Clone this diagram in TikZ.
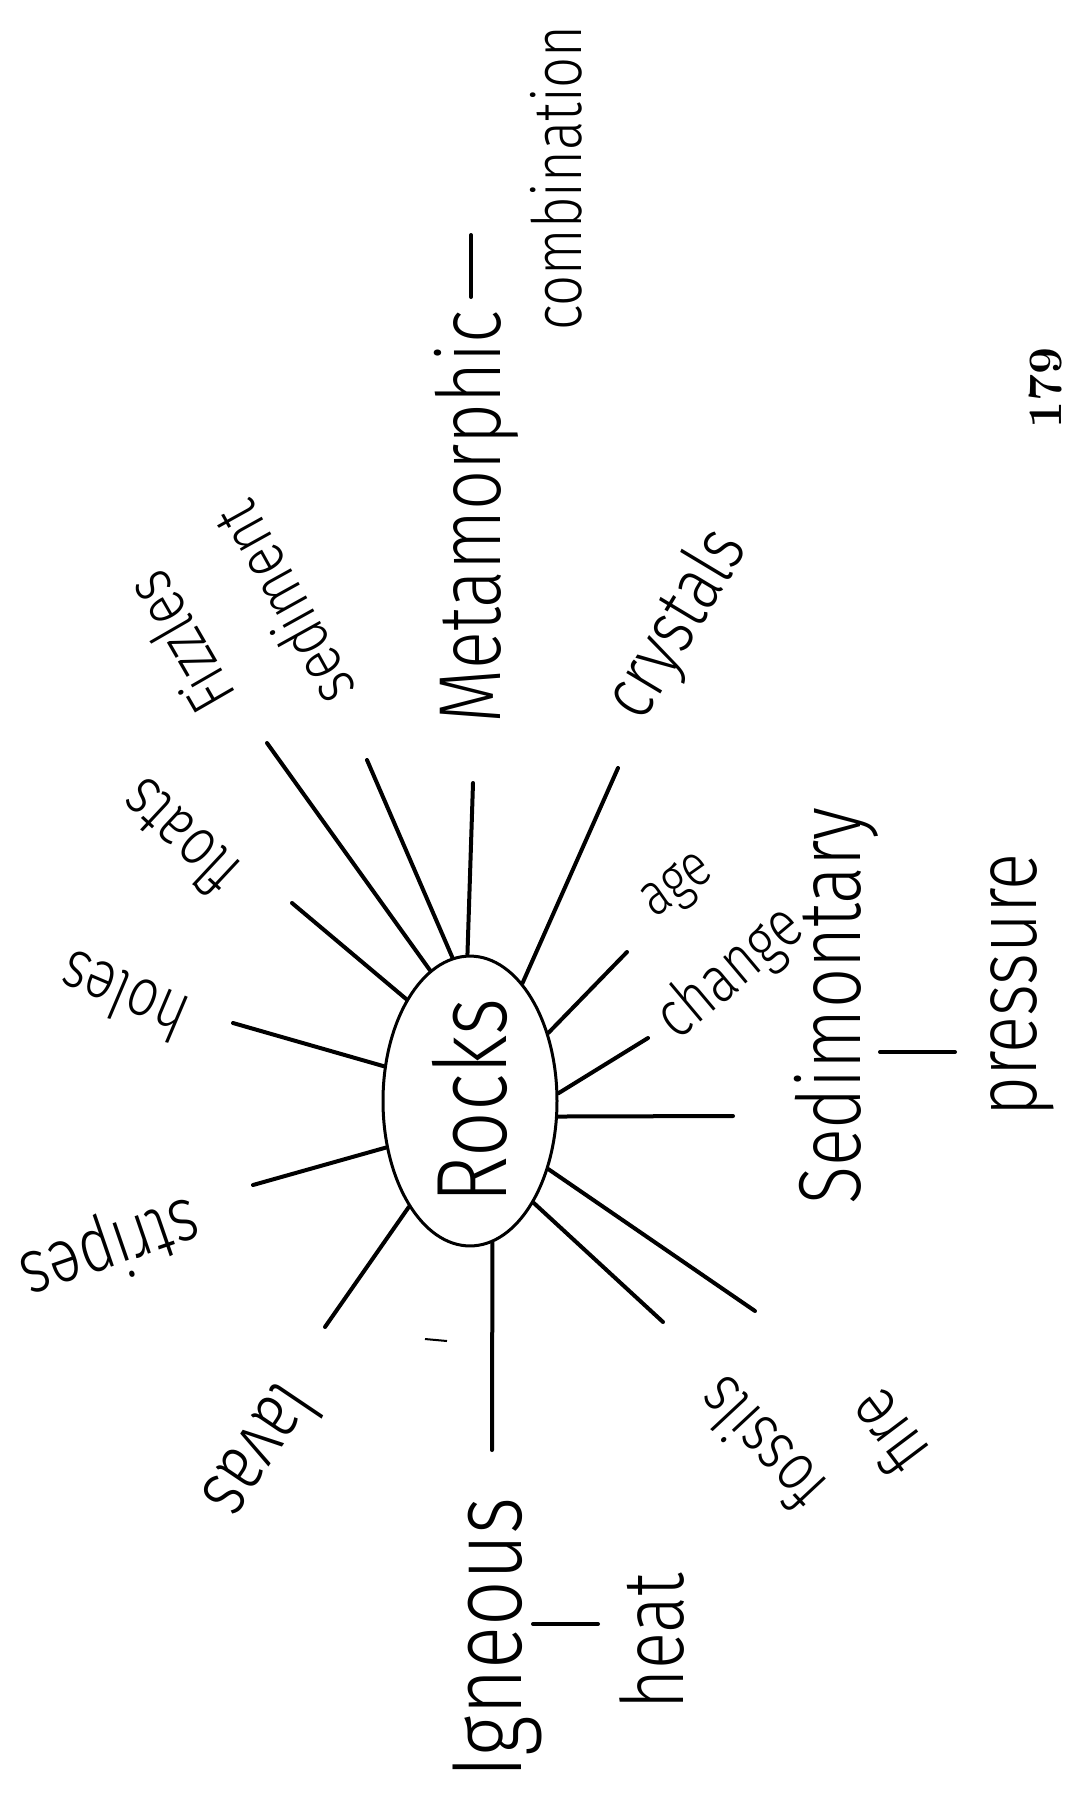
\documentclass[tikz,border=0pt]{standalone}
\usepackage{fontspec}
\usetikzlibrary{shapes.geometric}
\newfontfamily\hand{Fira Sans Light}[FakeStretch=0.8]

\begin{document}
\begin{tikzpicture}[x=0.5pt,y=-0.5pt,hw/.style={inner sep=0pt,font=\hand\fontsize{#1}{#1}\selectfont},ln/.style={line width=2pt,line cap=round}]
\useasboundingbox (0,0) rectangle (1069,1796);
\node[draw,ellipse,line width=1.5pt,minimum width=87pt,minimum height=141.5pt,hw=50](rocks) at (470,1101){\rotatebox{90}{Rocks}};
% main branches
\node[hw=44,rotate=90](metamorphic) at (476,517){Metamorphic};
\node[hw=34,rotate=90](combination) at (556,178){combination};
\node[hw=50,rotate=90](igneous) at (497,1638){Igneous};
\node[hw=43,rotate=90](heat) at (652,1641){heat};
\node[hw=44,rotate=90](sedimentary) at (836,1006){Sedimontary};
\node[hw=43,rotate=90](pressure) at (1022,985){pressure};
% small words round the oval
\node[hw=38,rotate=59](crystals) at (678,625){crystals};
\node[hw=33,rotate=119](sediment) at (283,605){sediment};
\node[hw=33,rotate=120](fizzles) at (179,643){Fizzles};
\node[hw=34,rotate=137](floats) at (178,838){floats};
\node[hw=34,rotate=157](holes) at (123,997){holes};
\node[hw=38,rotate=199](stripes) at (110,1247){stripes};
\node[hw=40,rotate=236](lavas) at (263,1453){lavas};
\node[hw=34,rotate=133](fossils) at (760,1445){fossils};
\node[hw=36,rotate=127](fire) at (886,1433){fire};
\node[hw=33,rotate=40](change) at (731,974){change};
\node[hw=30,rotate=35](age) at (679,888){age};
\node[rotate=90,inner sep=0pt,font=\bfseries\fontsize{24}{24}\selectfont](pagenum) at (1046,388){179};
% line ends
\coordinate(e-meta) at (473,783);\coordinate(e-sediment) at (367,760);\coordinate(e-fizzles) at (267,743);
\coordinate(e-floats) at (292,903);\coordinate(e-holes) at (233,1023);\coordinate(e-stripes) at (253,1185);
\coordinate(e-lavas) at (325,1327);\coordinate(e-igneous) at (492,1450);\coordinate(e-fossils) at (663,1322);
\coordinate(e-fire) at (755,1311);\coordinate(e-sedimentary) at (733,1116);\coordinate(e-change) at (648,1038);
\coordinate(e-age) at (627,952);\coordinate(e-crystals) at (618,768);
\draw[ln](rocks.91)--(e-meta);\draw[ln](rocks.97)--(e-sediment);\draw[ln](rocks.107)--(e-fizzles);
\draw[ln](rocks.122)--(e-floats);\draw[ln](rocks.158)--(e-holes);\draw[ln](rocks.209)--(e-stripes);
\draw[ln](rocks.240)--(e-lavas);\draw[ln](rocks.279)--(e-igneous);\draw[ln](rocks.302)--(e-fossils);
\draw[ln](rocks.319)--(e-fire);\draw[ln](rocks.350)--(e-sedimentary);\draw[ln](rocks.5)--(e-change);
\draw[ln](rocks.41)--(e-age);\draw[ln](rocks.66)--(e-crystals);
% dashes between words
\coordinate(md1) at (471,297);\coordinate(md2) at (471,235);\draw[ln](md1)--(md2);
\coordinate(id1) at (533,1624);\coordinate(id2) at (598,1624);\draw[ln](id1)--(id2);
\coordinate(sd1) at (880,1052);\coordinate(sd2) at (955,1052);\draw[ln](sd1)--(sd2);
\coordinate(st1) at (425,1339);\coordinate(st2) at (447,1341);\draw[line width=1pt](st1)--(st2);
\end{tikzpicture}
\end{document}
